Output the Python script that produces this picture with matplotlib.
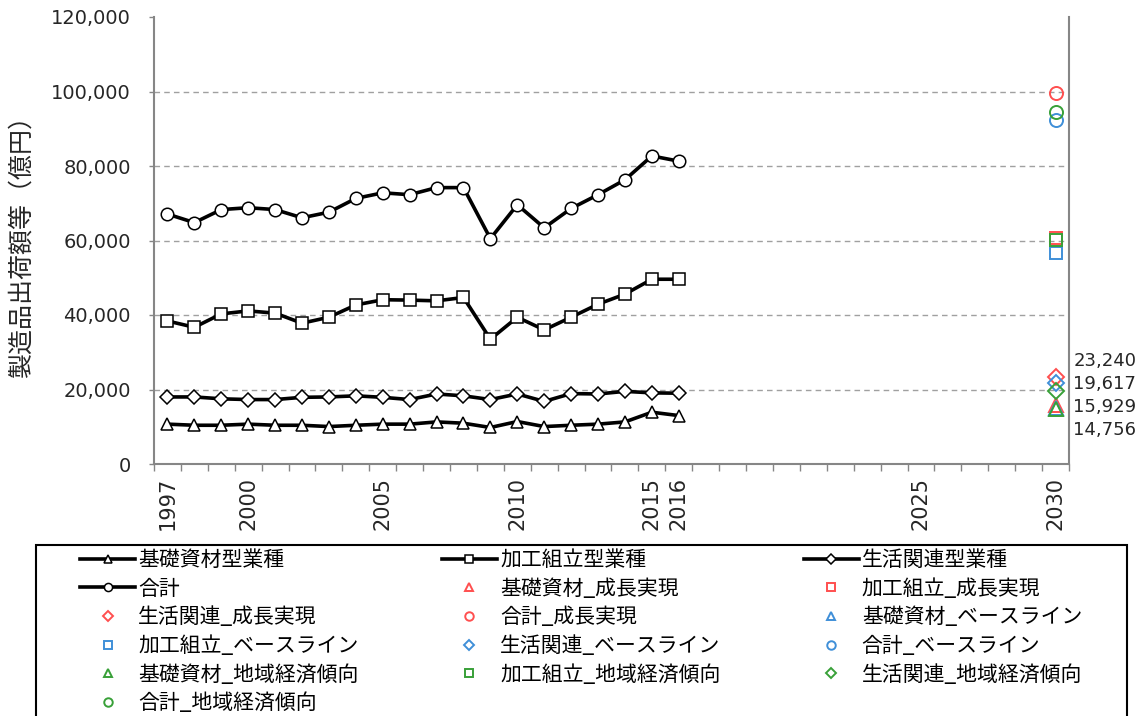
import matplotlib
matplotlib.use("Agg")
import matplotlib.pyplot as plt
from matplotlib.patches import Rectangle
from matplotlib.ticker import FuncFormatter, FixedLocator

# 実績（億円）
YEARS = list(range(1997, 2017))
KISO = [10700, 10400, 10400, 10700, 10400, 10400, 10050, 10400, 10700, 10700,
        11300, 10950, 9800, 11400, 10050, 10400, 10700, 11300, 13900, 13000]
KAKO = [38400, 36700, 40300, 41100, 40500, 37800, 39400, 42700, 44100, 44000,
        43800, 44700, 33500, 39400, 36000, 39400, 42900, 45600, 49600, 49600]
SEIKATSU = [18000, 18000, 17500, 17300, 17300, 17900, 18000, 18300, 17900, 17300,
            18800, 18300, 17300, 18800, 16800, 18900, 18800, 19500, 19100, 19000]
TOTAL = [67100, 64800, 68300, 68800, 68300, 66100, 67600, 71300, 72800, 72300,
         74200, 74200, 60500, 69600, 63400, 68600, 72300, 76300, 82700, 81300]

# 2030年の見通し（成長実現, ベースライン, 地域経済傾向）
PROJ_YEAR = 2030
SCENARIOS = ["成長実現", "ベースライン", "地域経済傾向"]
PROJ_KISO = [15929, 15100, 14756]
PROJ_KAKO = [60700, 56700, 60200]
PROJ_SEIKATSU = [23240, 21800, 19617]
PROJ_TOTAL = [99700, 92400, 94400]

LABEL_VALUES = [23240, 19617, 15929, 14756]
X_LABEL_YEARS = [1997, 2000, 2005, 2010, 2015, 2016, 2025, 2030]

SERIES = [
    ("基礎資材型業種", "基礎資材", KISO, PROJ_KISO, "^", 9.0, 9.5),
    ("加工組立型業種", "加工組立", KAKO, PROJ_KAKO, "s", 8.5, 8.5),
    ("生活関連型業種", "生活関連", SEIKATSU, PROJ_SEIKATSU, "D", 7.5, 8.0),
    ("合計", "合計", TOTAL, PROJ_TOTAL, "o", 9.0, 9.4),
]
SCEN_COLORS = ["#FF4F4F", "#3F8FD8", "#38A038"]

GRAY = "#868686"
TXT = "#262626"
CJK = ["Noto Sans CJK JP", "DejaVu Sans"]

plt.rcParams["font.family"] = ["DejaVu Sans", "Noto Sans CJK JP"]

W, H = 1141, 716
fig = plt.figure(figsize=(W / 100, H / 100), dpi=100)
ax = fig.add_axes([154 / W, 1 - 464 / H, (1069 - 154) / W, (464 - 17) / H])

handles = []
for name, short, vals, proj, mk, ms, pms in SERIES:
    h, = ax.plot(YEARS, vals, color="black", lw=2.6, marker=mk, ms=ms,
                 mfc="white", mec="black", mew=1.1, zorder=3, label=name)
    handles.append(h)

for si, scen in enumerate(SCENARIOS):
    for name, short, vals, proj, mk, ms, pms in SERIES:
        h, = ax.plot([PROJ_YEAR], [proj[si]], ls="none", marker=mk, ms=pms,
                     mfc="none", mec=SCEN_COLORS[si], mew=1.4, zorder=4,
                     label=f"{short}_{scen}")
        handles.append(h)

ax.set_xlim(1996.5, 2030.5)
ax.set_ylim(0, 120000)

ax.set_yticks(range(0, 120001, 20000))
ax.yaxis.set_major_formatter(FuncFormatter(lambda v, p: f"{int(v):,}"))
ax.tick_params(axis="y", length=3.6, width=1, color=GRAY, pad=13,
               labelsize=14, labelcolor=TXT)
for y in range(20000, 100001, 20000):
    ax.axhline(y, color="#a0a0a0", lw=1.0, ls=(0, (4, 3)), zorder=1)

ax.xaxis.set_major_locator(FixedLocator(X_LABEL_YEARS))
ax.set_xticklabels([str(y) for y in X_LABEL_YEARS], rotation=90, ha="center")
ax.xaxis.set_minor_locator(FixedLocator([1996.5 + i for i in range(35)]))
ax.tick_params(axis="x", which="major", length=0, pad=9, labelsize=15,
               labelcolor=TXT)
ax.tick_params(axis="x", which="minor", length=5, width=1, color=GRAY)

ax.spines["top"].set_visible(False)
for s in ("left", "bottom", "right"):
    ax.spines[s].set_color(GRAY)
    ax.spines[s].set_linewidth(1.5)

ax.set_ylabel("製造品出荷額等（億円）", family=CJK, fontsize=18, color=TXT)
ax.yaxis.set_label_coords(-0.131, 0.5)

# 2030年の値ラベル
for i, v in enumerate(LABEL_VALUES):
    ax.annotate(f"{v:,}", xy=(1.0, 0.2304 - i * 0.0515), xycoords="axes fraction",
                xytext=(3, 0), textcoords="offset points", va="center", ha="left",
                fontsize=13, color=TXT, annotation_clip=False)

# 凡例（行優先に並べ替え）
order = [0, 3, 6, 9, 12, 15, 1, 4, 7, 10, 13, 2, 5, 8, 11, 14]
hs = [handles[i] for i in order]
fig.legend(hs, [h.get_label() for h in hs], loc="upper left",
           bbox_to_anchor=(80 / W, 1 - 549 / H), ncol=3, frameon=False,
           handlelength=2.64, handletextpad=0.15, columnspacing=4.0,
           borderpad=0, borderaxespad=0, labelspacing=0.32, markerscale=0.65,
           prop={"family": CJK, "size": 15})
fig.patches.append(Rectangle((36 / W, -0.05), (1127 - 36) / W, (716 - 545) / H + 0.05,
                             transform=fig.transFigure, fill=False,
                             edgecolor="black", lw=1.5))

fig.savefig("out.png", dpi=100)
